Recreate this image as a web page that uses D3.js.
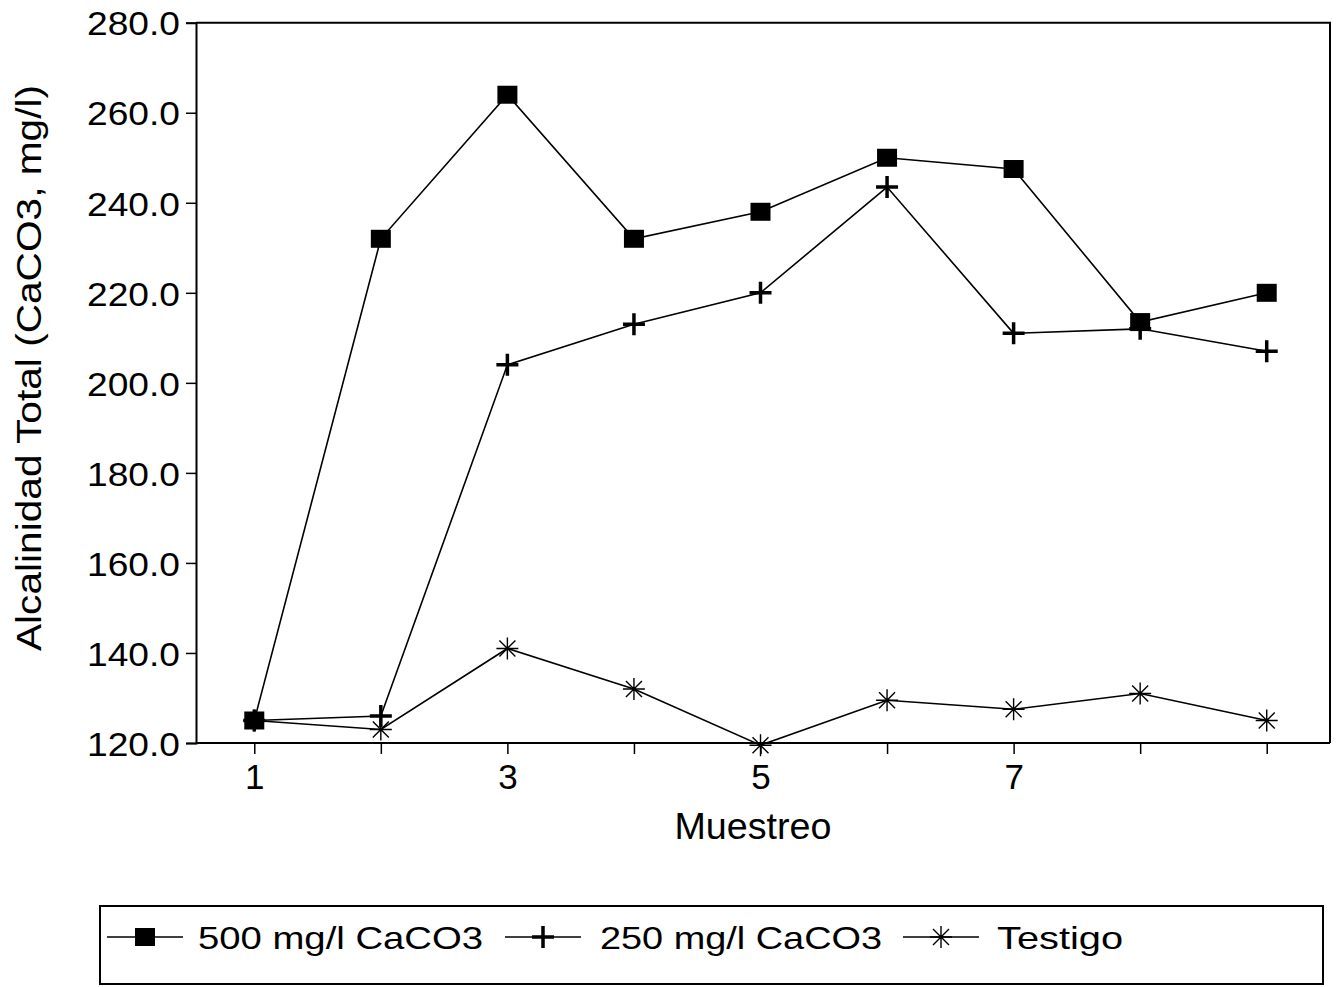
<!DOCTYPE html>
<html>
<head>
<meta charset="utf-8">
<script src="https://cdn.jsdelivr.net/npm/d3@7"></script>
<style>
  body { margin: 0; background: #fff; }
  text { font-family: "Liberation Sans", Arial, sans-serif; fill: #000; }
</style>
</head>
<body>
<svg id="chart" width="1339" height="987"></svg>
<script>
// values
const muestreo = [1, 2, 3, 4, 5, 6, 7, 8, 9]
const s500 = [125, 232, 264, 232, 238, 250, 247.5, 213.5, 220]
const s250 = [125, 126, 204, 213, 220, 243.5, 211, 212, 207]
const testigo = [125, 123, 141, 132, 119.5, 129.5, 127.5, 131, 125]
const seriesNames = ["500 mg/l CaCO3", "250 mg/l CaCO3", "Testigo"]
const yTicks = [120, 140, 160, 180, 200, 220, 240, 260, 280]
const xLabelTicks = [1, 3, 5, 7]

const svg = d3.select("#chart")

const x = d3.scaleLinear().domain([0.5, 9.5]).range([191, 1330])
const y = d3.scaleLinear().domain([120, 280]).range([743, 22.7])
const axisX = 196

// frame (top + right side)
svg.append("path")
  .attr("d", `M${axisX},${y(280)}H${x(9.5)}V${y(120)}`)
  .attr("fill", "none").attr("stroke", "#000").attr("stroke-width", 2)

// y axis
const yAxis = svg.append("g")
  .attr("transform", `translate(${axisX},0)`)
  .call(d3.axisLeft(y).tickValues(yTicks).tickSize(10).tickPadding(6).tickFormat(d3.format(".1f")))
yAxis.select(".domain").attr("stroke-width", 2)
yAxis.selectAll(".tick line").attr("stroke-width", 1.5)
yAxis.selectAll(".tick text")
  .attr("font-size", 34)
  .attr("dy", "0.36em")
  .attr("textLength", 93)
  .attr("lengthAdjust", "spacingAndGlyphs")

// x axis: ticks at every sample, labels only on odd ones
const xAxis = svg.append("g")
  .attr("transform", `translate(0,${y(120)})`)
  .call(d3.axisBottom(x).tickValues(muestreo).tickSize(11).tickPadding(10)
    .tickFormat(d => xLabelTicks.includes(d) ? d : ""))
xAxis.select(".domain").attr("stroke-width", 2).attr("d", `M${axisX},0H${x(9.5)}`)
xAxis.selectAll(".tick line").attr("stroke-width", 1.5)
xAxis.selectAll(".tick text").attr("font-size", 35)

// axis titles
svg.append("text")
  .attr("transform", "translate(41,368) rotate(-90)")
  .attr("text-anchor", "middle")
  .attr("font-size", 35)
  .attr("textLength", 566)
  .attr("lengthAdjust", "spacingAndGlyphs")
  .text("Alcalinidad Total (CaCO3, mg/l)")

svg.append("text")
  .attr("x", 753).attr("y", 839)
  .attr("text-anchor", "middle")
  .attr("font-size", 36)
  .attr("textLength", 157)
  .attr("lengthAdjust", "spacingAndGlyphs")
  .text("Muestreo")

// markers
function drawSquare(g, cx, cy) {
  g.append("rect").attr("x", cx - 10).attr("y", cy - 9).attr("width", 20).attr("height", 18).attr("fill", "#000")
}
function drawPlus(g, cx, cy) {
  g.append("path").attr("d", `M${cx - 11},${cy}H${cx + 11}M${cx},${cy - 11}V${cy + 11}`)
    .attr("stroke", "#000").attr("stroke-width", 3.5)
}
function drawStar(g, cx, cy) {
  const r = 11, d = 8
  g.append("path")
    .attr("d", `M${cx},${cy - r}V${cy + r}M${cx - d},${cy - d}L${cx + d},${cy + d}M${cx - d},${cy + d}L${cx + d},${cy - d}M${cx - r},${cy}H${cx + r}`)
    .attr("stroke", "#000").attr("stroke-width", 1.4).attr("fill", "none")
}

const line = d3.line().x((d, i) => x(muestreo[i])).y(d => y(d))
const series = [
  { values: testigo, marker: drawStar },
  { values: s250, marker: drawPlus },
  { values: s500, marker: drawSquare }
]
series.forEach(s => {
  const g = svg.append("g")
  g.append("path").datum(s.values).attr("d", line)
    .attr("fill", "none").attr("stroke", "#000").attr("stroke-width", 1.6)
  s.values.forEach((v, i) => s.marker(g, x(muestreo[i]), y(v)))
})

// legend
const legend = svg.append("g")
legend.append("rect").attr("x", 100).attr("y", 906).attr("width", 1223).attr("height", 78)
  .attr("fill", "none").attr("stroke", "#000").attr("stroke-width", 2)

const legendItems = [
  { name: seriesNames[0], x0: 107, marker: drawSquare, tx: 198, tw: 285 },
  { name: seriesNames[1], x0: 505, marker: drawPlus, tx: 600, tw: 282 },
  { name: seriesNames[2], x0: 903, marker: drawStar, tx: 997, tw: 126 }
]
legendItems.forEach(it => {
  const ly = 937
  legend.append("line").attr("x1", it.x0).attr("x2", it.x0 + 76).attr("y1", ly).attr("y2", ly)
    .attr("stroke", "#000").attr("stroke-width", 1.6)
  it.marker(legend, it.x0 + 38, ly)
  legend.append("text").attr("x", it.tx).attr("y", 949)
    .attr("font-size", 32)
    .attr("textLength", it.tw)
    .attr("lengthAdjust", "spacingAndGlyphs")
    .text(it.name)
})
</script>
</body>
</html>
